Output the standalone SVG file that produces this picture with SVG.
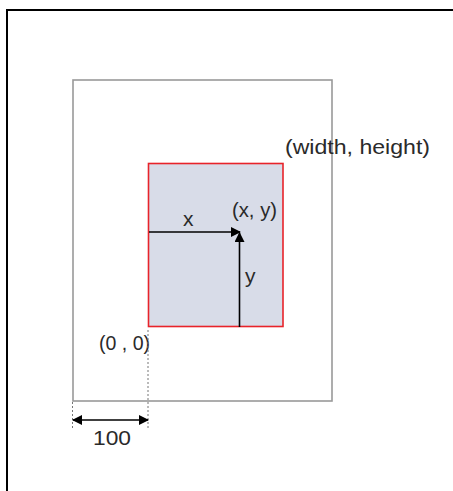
<svg xmlns="http://www.w3.org/2000/svg" width="453" height="491" viewBox="0 0 453 491">
<style>
text{font-family:"Liberation Sans",Arial,sans-serif;fill:#2a2a2a;font-size:21px}
.ln{stroke:#000;stroke-width:1.6;fill:none}
.dot{stroke:#777;stroke-width:1;stroke-dasharray:2 2;fill:none}
</style>
<defs>
<marker id="ah" markerWidth="10" markerHeight="10" refX="9" refY="5" orient="auto-start-reverse" markerUnits="userSpaceOnUse">
<path d="M0,0 L10,5 L0,10 Z" fill="#000"/>
</marker>
</defs>
<rect width="453" height="491" fill="#fff"/>
<g id="frame">
<path d="M7,491 V10 H453" stroke="#000" stroke-width="2" fill="none"/>
</g>
<g id="canvas">
<rect x="73" y="80" width="259" height="321" fill="none" stroke="#999" stroke-width="1.6"/>
<text x="285" y="154" textLength="145" lengthAdjust="spacingAndGlyphs">(width, height)</text>
</g>
<g id="box">
<rect x="148.5" y="163.5" width="134.5" height="163" fill="#d8dce8" stroke="#e8232a" stroke-width="1.6"/>
<text x="232" y="217" textLength="45" lengthAdjust="spacingAndGlyphs">(x, y)</text>
<text x="183" y="226">x</text>
<text x="245" y="283">y</text>
</g>
<g id="origin">
<text x="99" y="350" textLength="51" lengthAdjust="spacingAndGlyphs">(0 , 0)</text>
<text x="93" y="445" textLength="38" lengthAdjust="spacingAndGlyphs">100</text>
</g>
<g id="connectors">
<line class="ln" x1="149" y1="232" x2="240" y2="232" marker-end="url(#ah)"/>
<line class="ln" x1="239.5" y1="327" x2="239.5" y2="233" marker-end="url(#ah)"/>
<line class="dot" x1="148" y1="330" x2="148" y2="428"/>
<line class="dot" x1="72.5" y1="402" x2="72.5" y2="428"/>
<line class="ln" x1="73" y1="420" x2="148" y2="420" marker-start="url(#ah)" marker-end="url(#ah)"/>
</g>
</svg>
